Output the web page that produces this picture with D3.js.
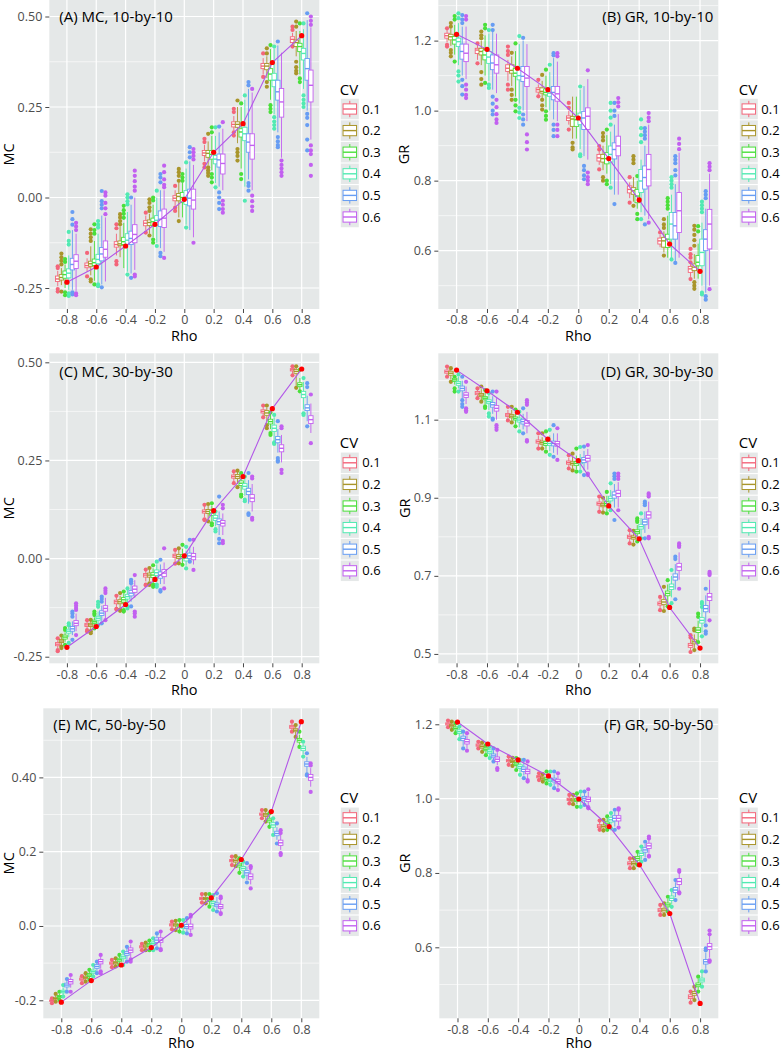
<!DOCTYPE html>
<html><head><meta charset="utf-8">
<script src="https://cdn.jsdelivr.net/npm/d3@7"></script>
<style>body{margin:0;background:#fff;} svg{display:block;font-family:"Open Sans",sans-serif;}</style>
</head><body><svg id="c" width="781" height="1050"></svg>
<script>
const rhoLabels = ["-0.8","-0.6","-0.4","-0.2","0","0.2","0.4","0.6","0.8"];
const cvLabels = ["0.1","0.2","0.3","0.4","0.5","0.6"];
const cvColors = ["#F3657A","#A9952B","#4ADF3A","#52EAB2","#679DF3","#C260F0"];

// ---- Panel A: MC 10-by-10  [whiskerLo, q1, median, q3, whiskerHi]
const boxA = [
 [[-0.245,-0.232,-0.225,-0.217,-0.203],[-0.242,-0.228,-0.221,-0.213,-0.195],[-0.25,-0.223,-0.213,-0.203,-0.185],[-0.255,-0.222,-0.209,-0.197,-0.16],[-0.255,-0.2,-0.185,-0.168,-0.09],[-0.258,-0.196,-0.176,-0.158,-0.1]],
 [[-0.205,-0.194,-0.188,-0.181,-0.168],[-0.215,-0.19,-0.183,-0.176,-0.135],[-0.23,-0.188,-0.18,-0.17,-0.12],[-0.235,-0.183,-0.171,-0.157,-0.1],[-0.24,-0.175,-0.156,-0.138,-0.05],[-0.232,-0.165,-0.143,-0.12,-0.055]],
 [[-0.16,-0.137,-0.13,-0.122,-0.1],[-0.165,-0.133,-0.128,-0.12,-0.08],[-0.195,-0.13,-0.122,-0.11,-0.07],[-0.205,-0.13,-0.118,-0.1,-0.04],[-0.21,-0.13,-0.113,-0.093,-0.02],[-0.2,-0.125,-0.102,-0.075,0.0]],
 [[-0.09,-0.078,-0.071,-0.064,-0.05],[-0.1,-0.077,-0.069,-0.062,-0.045],[-0.11,-0.077,-0.067,-0.057,-0.02],[-0.125,-0.077,-0.063,-0.05,0.0],[-0.14,-0.08,-0.06,-0.037,0.02],[-0.15,-0.083,-0.057,-0.032,0.02]],
 [[-0.022,-0.009,-0.002,0.005,0.02],[-0.055,-0.009,0.003,0.011,0.04],[-0.055,-0.014,0.0,0.014,0.04],[-0.075,-0.019,0.0,0.019,0.08],[-0.09,-0.023,-0.002,0.023,0.1],[-0.11,-0.032,-0.007,0.023,0.09]],
 [[0.1,0.116,0.123,0.13,0.145],[0.09,0.111,0.122,0.13,0.155],[0.075,0.106,0.119,0.13,0.17],[0.04,0.093,0.106,0.116,0.17],[0.03,0.084,0.104,0.12,0.18],[0.02,0.065,0.094,0.12,0.19]],
 [[0.185,0.195,0.202,0.209,0.225],[0.15,0.194,0.202,0.209,0.25],[0.08,0.167,0.181,0.19,0.25],[0.03,0.157,0.176,0.194,0.27],[0.05,0.125,0.153,0.176,0.3],[0.02,0.106,0.144,0.176,0.29]],
 [[0.34,0.356,0.363,0.37,0.385],[0.33,0.353,0.363,0.37,0.39],[0.27,0.324,0.341,0.356,0.41],[0.23,0.306,0.324,0.343,0.41],[0.18,0.269,0.292,0.324,0.42],[0.11,0.222,0.264,0.301,0.4]],
 [[0.42,0.428,0.437,0.444,0.455],[0.39,0.417,0.428,0.435,0.46],[0.34,0.403,0.417,0.426,0.46],[0.3,0.38,0.398,0.412,0.465],[0.24,0.324,0.356,0.384,0.49],[0.16,0.264,0.31,0.352,0.47]]
];
const outA = [
 [[-0.19,-0.195,-0.253,-0.26],[-0.185,-0.175,-0.165,-0.155,-0.26],[-0.178,-0.17,-0.262,-0.27],[-0.13,-0.12,-0.095,-0.265,-0.272],[-0.075,-0.06,-0.04,-0.262,-0.268],[-0.09,-0.08,-0.07,-0.265,-0.27]],
 [[-0.153,-0.218],[-0.12,-0.11,-0.1,-0.088,-0.226,-0.232],[-0.1,-0.09,-0.074,-0.24],[-0.083,-0.075,-0.065,-0.24,-0.245],[-0.03,-0.02,-0.01,0.018,-0.248],[-0.046,-0.03,-0.015,0.005,0.014]],
 [[-0.074,-0.085,-0.176,-0.185],[-0.046,-0.055,-0.065,-0.074],[-0.023,-0.035,-0.045,-0.056],[0.009,0.0,-0.01,-0.019,-0.213],[0.0,-0.222],[0.074,0.06,0.045,0.03,0.019,-0.213,-0.218]],
 [[-0.042,-0.097],[-0.005,-0.015,-0.027,-0.037,-0.105],[0.0,-0.008,-0.116,-0.125],[0.019,-0.134],[0.065,0.055,0.042,-0.153,-0.162],[0.088,0.07,0.05,0.035,0.028,-0.167]],
 [[0.032,-0.028,-0.037],[0.079,0.07,0.06,0.046,-0.065],[0.065,0.055,0.046],[0.097,-0.083],[0.139,0.125,0.111],[0.134,0.125,0.115,0.105,-0.125]],
 [[0.162,0.153,0.093,0.083],[0.176,0.083,0.075,0.068,0.06],[0.194,0.18,0.065,0.055,0.042],[0.194,0.028],[0.196,0.014,0.0,-0.015,-0.032],[0.208,-0.009,-0.02,-0.032,-0.042]],
 [[0.245,0.236,0.18,0.171],[0.268,0.134,0.125,0.115,0.102],[0.26,0.065,0.051],[0.282,-0.009],[0.319,0.31,0.04,0.032,0.019],[0.3,0.005,-0.01,-0.025,-0.037]],
 [[0.398,0.333],[0.412,0.398,0.319,0.306],[0.421,0.255,0.245,0.236],[0.417,0.222,0.21,0.2,0.19],[0.431,0.167,0.155,0.145,0.139],[0.102,0.09,0.08,0.07,0.06]],
 [[0.472,0.463,0.417],[0.486,0.472,0.375,0.36,0.35,0.343],[0.481,0.329,0.319],[0.481,0.282,0.27,0.26,0.25],[0.509,0.231,0.22,0.2,0.16,0.13],[0.5,0.488,0.477,0.144,0.13,0.12,0.09,0.06]]
];
const redA = [-0.234,-0.192,-0.134,-0.074,-0.005,0.125,0.204,0.373,0.447];

// ---- Panel B: GR 10-by-10
const boxB = [
 [[1.195,1.207,1.214,1.221,1.23],[1.185,1.202,1.211,1.218,1.235],[1.16,1.19,1.202,1.212,1.245],[1.13,1.183,1.197,1.207,1.25],[1.1,1.147,1.169,1.19,1.24],[1.09,1.14,1.164,1.19,1.24]],
 [[1.145,1.163,1.173,1.178,1.19],[1.13,1.159,1.169,1.178,1.2],[1.1,1.145,1.159,1.173,1.215],[1.085,1.135,1.153,1.169,1.22],[1.06,1.117,1.136,1.159,1.225],[1.05,1.107,1.131,1.159,1.22]],
 [[1.085,1.112,1.121,1.131,1.145],[1.07,1.107,1.115,1.131,1.155],[1.04,1.098,1.107,1.121,1.17],[1.02,1.088,1.1,1.121,1.19],[1.0,1.083,1.098,1.126,1.2],[0.97,1.069,1.093,1.126,1.19]],
 [[1.045,1.053,1.06,1.065,1.075],[1.035,1.05,1.055,1.065,1.085],[1.01,1.045,1.052,1.062,1.1],[1.0,1.041,1.05,1.065,1.11],[0.975,1.031,1.052,1.069,1.15],[0.97,1.027,1.048,1.069,1.14]],
 [[0.96,0.972,0.979,0.985,1.0],[0.92,0.955,0.976,0.983,1.04],[0.92,0.955,0.974,0.983,1.04],[0.89,0.96,0.979,0.993,1.06],[0.87,0.946,0.979,0.998,1.07],[0.86,0.946,0.984,1.008,1.09]],
 [[0.845,0.856,0.865,0.875,0.885],[0.83,0.853,0.863,0.875,0.9],[0.82,0.848,0.863,0.88,0.93],[0.79,0.853,0.875,0.899,0.94],[0.76,0.862,0.889,0.908,0.96],[0.76,0.871,0.899,0.927,0.99]],
 [[0.75,0.765,0.775,0.785,0.795],[0.74,0.761,0.771,0.78,0.81],[0.72,0.737,0.756,0.775,0.8],[0.71,0.766,0.799,0.832,0.86],[0.7,0.776,0.809,0.842,0.9],[0.69,0.785,0.832,0.875,0.96]],
 [[0.61,0.619,0.628,0.636,0.645],[0.595,0.61,0.628,0.638,0.655],[0.58,0.609,0.633,0.647,0.7],[0.57,0.633,0.676,0.709,0.76],[0.57,0.633,0.671,0.709,0.79],[0.58,0.652,0.714,0.766,0.88]],
 [[0.525,0.538,0.548,0.555,0.562],[0.52,0.543,0.553,0.562,0.59],[0.52,0.557,0.567,0.586,0.62],[0.5,0.557,0.595,0.633,0.68],[0.48,0.6,0.633,0.66,0.72],[0.5,0.605,0.676,0.718,0.82]]
];
const outB = [
 [[1.235,1.188,1.183],[1.25,1.24,1.173,1.165,1.155],[1.27,1.26,1.14],[1.278,1.264,1.112,1.1,1.083],[1.273,1.26,1.25,1.088,1.07,1.046],[1.27,1.26,1.074,1.06,1.045,1.036]],
 [[1.192,1.135],[1.226,1.215,1.207,1.11,1.09,1.074],[1.245,1.235,1.079],[1.23,1.074,1.065],[1.245,1.23,1.04,1.02,1.0,0.989],[1.031,1.01,0.99,0.975,0.965]],
 [[1.183,1.17,1.159,1.074,1.06],[1.165,1.06,1.045,1.031],[1.192,1.031,1.015,0.998],[1.213,1.008,0.995,0.979],[1.208,0.989,0.975,0.96],[0.932,0.91,0.889]],
 [[1.088,1.041],[1.102,1.031,1.015,1.003],[1.117,0.998,0.985,0.974],[1.131],[1.164,1.158,0.96,0.945,0.927],[1.164,1.155,0.96,0.945,0.927]],
 [[1.022,1.008,0.946],[0.908,0.895,0.889],[],[1.069,0.875,0.87],[0.842,0.83,0.815,0.804],[1.115,0.823,0.81,0.8,0.79]],
 [[0.899,0.889,0.832],[0.936,0.925,0.915,0.81,0.8],[0.946,0.8,0.79],[1.022,1.0,0.98,0.96,0.78],[1.022,1.0,0.985,0.733],[1.036,1.024,1.012]],
 [[0.81,0.737],[0.87,0.86,0.85,0.728],[0.813,0.705,0.69],[0.975,0.95,0.93,0.91,0.69],[0.95,0.94,0.93,0.92,0.675],[0.993,0.98,0.97,0.68]],
 [[0.652],[0.69,0.675,0.665,0.586],[0.75,0.74,0.73,0.72],[0.81,0.8,0.79,0.78,0.575],[0.87,0.86,0.85,0.83,0.815,0.565],[0.92,0.905,0.89]],
 [[0.605,0.59,0.58,0.567,0.519],[0.671,0.66,0.645,0.63,0.614,0.51,0.5,0.491],[0.67,0.655],[0.74,0.73,0.72,0.71,0.48,0.475],[0.77,0.76,0.75,0.47,0.46],[0.85,0.84,0.83,0.49]]
];
const redB = [1.218,1.175,1.121,1.06,0.979,0.863,0.745,0.619,0.541];

// ---- Panel C: MC 30-by-30
const boxC = [
 [[-0.228,-0.222,-0.218,-0.214,-0.208],[-0.22,-0.214,-0.21,-0.206,-0.2],[-0.212,-0.205,-0.2,-0.195,-0.188],[-0.2,-0.19,-0.185,-0.18,-0.17],[-0.195,-0.185,-0.179,-0.173,-0.16],[-0.185,-0.171,-0.165,-0.158,-0.14]],
 [[-0.178,-0.173,-0.169,-0.165,-0.16],[-0.18,-0.173,-0.169,-0.165,-0.158],[-0.172,-0.165,-0.161,-0.157,-0.15],[-0.168,-0.157,-0.152,-0.147,-0.135],[-0.16,-0.145,-0.139,-0.133,-0.12],[-0.152,-0.134,-0.127,-0.12,-0.1]],
 [[-0.124,-0.115,-0.11,-0.106,-0.098],[-0.125,-0.115,-0.11,-0.105,-0.095],[-0.125,-0.111,-0.105,-0.099,-0.09],[-0.118,-0.103,-0.097,-0.091,-0.08],[-0.11,-0.095,-0.088,-0.081,-0.068],[-0.1,-0.086,-0.078,-0.07,-0.055]],
 [[-0.058,-0.047,-0.042,-0.038,-0.03],[-0.058,-0.047,-0.042,-0.037,-0.028],[-0.062,-0.048,-0.042,-0.036,-0.025],[-0.06,-0.043,-0.036,-0.029,-0.015],[-0.065,-0.05,-0.042,-0.034,-0.015],[-0.065,-0.046,-0.037,-0.028,-0.01]],
 [[-0.01,0.003,0.007,0.011,0.018],[-0.01,0.0,0.005,0.01,0.022],[-0.012,0.0,0.005,0.01,0.025],[-0.018,-0.006,0.001,0.008,0.02],[-0.005,0.0,0.007,0.014,0.03],[-0.015,-0.003,0.005,0.013,0.03]],
 [[0.105,0.116,0.12,0.124,0.132],[0.1,0.115,0.12,0.125,0.135],[0.095,0.11,0.116,0.122,0.135],[0.082,0.097,0.103,0.11,0.118],[0.06,0.087,0.094,0.101,0.12],[0.06,0.083,0.09,0.097,0.115]],
 [[0.195,0.205,0.209,0.213,0.22],[0.19,0.204,0.209,0.214,0.222],[0.17,0.186,0.192,0.198,0.212],[0.16,0.177,0.184,0.191,0.205],[0.14,0.163,0.171,0.179,0.2],[0.12,0.145,0.154,0.163,0.19]],
 [[0.363,0.371,0.375,0.379,0.387],[0.35,0.365,0.371,0.377,0.385],[0.33,0.343,0.349,0.355,0.37],[0.3,0.324,0.332,0.34,0.36],[0.27,0.295,0.303,0.311,0.33],[0.245,0.272,0.281,0.29,0.315]],
 [[0.47,0.478,0.481,0.484,0.488],[0.44,0.472,0.477,0.482,0.488],[0.43,0.438,0.443,0.448,0.46],[0.38,0.41,0.418,0.426,0.45],[0.35,0.377,0.384,0.392,0.415],[0.32,0.344,0.354,0.364,0.395]]
];
const outC = [
 [[-0.203,-0.233,-0.236],[-0.196,-0.224,-0.228],[-0.177,-0.182,-0.22],[-0.165,-0.17,-0.215],[-0.135,-0.14,-0.148,-0.207],[-0.114,-0.12,-0.126,-0.131,-0.195]],
 [[-0.157,-0.182,-0.186],[-0.156,-0.185,-0.19],[-0.135,-0.14,-0.144,-0.178],[-0.11,-0.117,-0.123,-0.17],[-0.097,-0.103,-0.11,-0.165],[-0.076,-0.082,-0.088,-0.157]],
 [[-0.095,-0.128,-0.13],[-0.088,-0.13,-0.133],[-0.084,-0.131,-0.135],[-0.076,-0.122,-0.127],[-0.054,-0.058,-0.063,-0.122],[-0.042,-0.135,-0.14,-0.148]],
 [[-0.028,-0.066,-0.068],[-0.024,-0.063,-0.067],[-0.017,-0.066,-0.072],[-0.008,-0.066,-0.072],[-0.003,-0.08,-0.084],[0.026,-0.076]],
 [[0.022,-0.013],[0.026,-0.012],[0.035,-0.016],[0.03,-0.025],[0.048,-0.008],[0.048,-0.029]],
 [[0.137,0.1,0.098],[0.139,0.095],[0.141,0.09,0.085],[0.12,0.075,0.069],[0.158,0.05,0.039],[0.137,0.128,0.045,0.039]],
 [[0.222,0.192],[0.224,0.182],[0.218,0.163,0.158],[0.209,0.15,0.146],[0.218,0.115,0.111],[0.209,0.204,0.104,0.099]],
 [[0.39,0.36],[0.39,0.34,0.332],[0.372,0.32,0.315],[0.366,0.296,0.292],[0.35,0.256,0.25,0.247],[0.337,0.332,0.226,0.218]],
 [[0.49,0.467],[0.49,0.435],[0.481,0.426],[0.46,0.37,0.366],[0.447,0.437,0.337],[0.418,0.294]]
];
const redC = [-0.226,-0.173,-0.117,-0.053,0.007,0.122,0.209,0.382,0.483];

// ---- Panel D: GR 30-by-30
const boxD = [
 [[1.212,1.219,1.223,1.227,1.233],[1.203,1.214,1.219,1.224,1.23],[1.19,1.198,1.202,1.206,1.214],[1.18,1.188,1.193,1.198,1.21],[1.155,1.174,1.18,1.186,1.2],[1.14,1.157,1.163,1.169,1.185]],
 [[1.158,1.164,1.168,1.172,1.176],[1.15,1.159,1.163,1.167,1.178],[1.14,1.151,1.155,1.159,1.17],[1.125,1.141,1.146,1.151,1.165],[1.115,1.132,1.138,1.144,1.16],[1.1,1.122,1.129,1.136,1.155]],
 [[1.102,1.108,1.112,1.116,1.125],[1.098,1.105,1.109,1.113,1.125],[1.088,1.099,1.103,1.107,1.118],[1.08,1.094,1.099,1.104,1.115],[1.075,1.089,1.095,1.101,1.115],[1.065,1.084,1.091,1.098,1.12]],
 [[1.03,1.04,1.044,1.048,1.058],[1.03,1.037,1.041,1.045,1.055],[1.025,1.034,1.039,1.044,1.055],[1.02,1.034,1.039,1.044,1.06],[1.015,1.033,1.039,1.045,1.065],[1.01,1.032,1.038,1.044,1.065]],
 [[0.978,0.986,0.99,0.994,1.003],[0.975,0.984,0.988,0.992,1.005],[0.972,0.983,0.988,0.993,1.008],[0.972,0.987,0.992,0.997,1.012],[0.97,0.99,0.997,1.003,1.02],[0.972,0.994,1.001,1.008,1.025]],
 [[0.868,0.881,0.885,0.889,0.898],[0.866,0.877,0.881,0.885,0.895],[0.865,0.88,0.885,0.89,0.905],[0.875,0.892,0.898,0.904,0.92],[0.875,0.899,0.907,0.915,0.935],[0.875,0.903,0.911,0.919,0.94]],
 [[0.787,0.796,0.8,0.804,0.812],[0.785,0.794,0.798,0.802,0.81],[0.792,0.808,0.813,0.818,0.83],[0.8,0.82,0.826,0.832,0.848],[0.81,0.831,0.838,0.845,0.865],[0.82,0.848,0.856,0.864,0.89]],
 [[0.615,0.625,0.629,0.633,0.642],[0.615,0.627,0.633,0.639,0.655],[0.63,0.649,0.655,0.661,0.678],[0.645,0.665,0.672,0.679,0.7],[0.665,0.689,0.697,0.705,0.73],[0.69,0.714,0.723,0.732,0.76]],
 [[0.51,0.517,0.522,0.527,0.538],[0.515,0.526,0.531,0.536,0.55],[0.535,0.555,0.561,0.567,0.585],[0.555,0.579,0.586,0.593,0.615],[0.58,0.608,0.616,0.624,0.65],[0.605,0.637,0.646,0.655,0.69]]
];
const outD = [
 [[1.236,1.21],[1.232,1.197],[1.21,1.18,1.172],[1.216,1.172],[1.21,1.15,1.14,1.133],[1.197,1.129,1.124,1.12]],
 [[1.18,1.155],[1.185,1.146],[1.176,1.134,1.13],[1.168,1.116,1.108],[1.172,1.103,1.1],[1.172,1.086,1.08,1.074]],
 [[1.133,1.098],[1.133,1.093],[1.126,1.083],[1.12,1.07],[1.129,1.065],[1.15,1.144,1.138,1.048,1.044]],
 [[1.065,1.026],[1.065,1.026],[1.07,1.018],[1.074,1.01],[1.086,1.005],[1.078,0.997]],
 [[1.009,0.975],[1.013,0.97],[1.026,0.967],[1.03,0.967],[1.031,0.958],[1.035,0.962,0.958]],
 [[0.903,0.864],[0.9,0.862],[0.915,0.86],[0.937,0.868],[0.962,0.955,0.948,0.843],[0.962,0.955,0.948,0.868]],
 [[0.817,0.783],[0.815,0.78],[0.847,0.842,0.838,0.788],[0.86,0.796],[0.89,0.886,0.881,0.796],[0.911,0.907,0.903,0.8,0.796]],
 [[0.646,0.612],[0.672,0.61],[0.689,0.622],[0.715,0.63],[0.749,0.743,0.64],[0.783,0.778,0.774,0.667]],
 [[0.548,0.542,0.505],[0.565,0.56,0.51],[0.603,0.595,0.53],[0.633,0.628,0.62,0.545],[0.667,0.573,0.558,0.552],[0.71,0.706,0.702,0.586]]
];
const redD = [1.227,1.174,1.119,1.05,0.995,0.879,0.795,0.619,0.515];

// ---- Panel E: MC 50-by-50
const boxE = [
 [[-0.206,-0.203,-0.201,-0.199,-0.197],[-0.2,-0.197,-0.195,-0.192,-0.188],[-0.196,-0.193,-0.19,-0.187,-0.182],[-0.186,-0.18,-0.177,-0.173,-0.166],[-0.172,-0.164,-0.159,-0.154,-0.147],[-0.166,-0.156,-0.15,-0.144,-0.138]],
 [[-0.151,-0.146,-0.143,-0.14,-0.137],[-0.146,-0.141,-0.138,-0.135,-0.13],[-0.141,-0.136,-0.132,-0.128,-0.122],[-0.132,-0.127,-0.123,-0.119,-0.111],[-0.122,-0.114,-0.109,-0.104,-0.099],[-0.115,-0.102,-0.096,-0.09,-0.082]],
 [[-0.108,-0.103,-0.1,-0.097,-0.094],[-0.106,-0.102,-0.099,-0.096,-0.09],[-0.101,-0.095,-0.091,-0.087,-0.082],[-0.098,-0.088,-0.083,-0.078,-0.072],[-0.09,-0.079,-0.074,-0.069,-0.06],[-0.085,-0.071,-0.065,-0.059,-0.05]],
 [[-0.062,-0.059,-0.056,-0.053,-0.05],[-0.061,-0.057,-0.054,-0.051,-0.048],[-0.06,-0.055,-0.051,-0.047,-0.042],[-0.06,-0.051,-0.047,-0.043,-0.036],[-0.055,-0.044,-0.038,-0.032,-0.024],[-0.056,-0.044,-0.038,-0.032,-0.02]],
 [[-0.006,0.0,0.003,0.006,0.01],[-0.008,0.0,0.003,0.006,0.011],[-0.012,-0.004,0.0,0.004,0.012],[-0.013,-0.006,-0.002,0.003,0.012],[-0.015,-0.007,-0.002,0.004,0.016],[-0.018,-0.008,-0.002,0.005,0.02]],
 [[0.066,0.071,0.074,0.077,0.082],[0.065,0.071,0.074,0.077,0.083],[0.057,0.066,0.07,0.074,0.082],[0.048,0.056,0.061,0.066,0.076],[0.045,0.052,0.057,0.062,0.078],[0.04,0.047,0.052,0.058,0.07]],
 [[0.167,0.173,0.176,0.179,0.184],[0.166,0.172,0.176,0.18,0.185],[0.148,0.159,0.164,0.169,0.178],[0.138,0.15,0.155,0.16,0.168],[0.124,0.137,0.143,0.149,0.16],[0.112,0.126,0.133,0.14,0.152]],
 [[0.293,0.298,0.301,0.304,0.309],[0.286,0.295,0.299,0.303,0.309],[0.272,0.28,0.285,0.29,0.298],[0.252,0.266,0.272,0.278,0.285],[0.232,0.243,0.249,0.255,0.266],[0.205,0.217,0.224,0.231,0.245]],
 [[0.527,0.532,0.536,0.54,0.546],[0.514,0.523,0.527,0.531,0.538],[0.488,0.495,0.5,0.505,0.515],[0.462,0.472,0.478,0.484,0.49],[0.412,0.43,0.436,0.442,0.455],[0.375,0.392,0.4,0.408,0.425]]
];
const outE = [
 [[-0.195,-0.208],[-0.183,-0.204],[-0.177,-0.199],[-0.159,-0.19],[-0.143,-0.177],[-0.132,-0.177]],
 [[-0.135,-0.154],[-0.127,-0.15],[-0.118,-0.145],[-0.105,-0.136],[-0.096,-0.127],[-0.078,-0.122,-0.127]],
 [[-0.091,-0.111],[-0.087,-0.109],[-0.078,-0.105],[-0.069,-0.105],[-0.056,-0.096],[-0.042,-0.09,-0.096]],
 [[-0.048,-0.065],[-0.045,-0.065],[-0.039,-0.065],[-0.033,-0.065],[-0.02,-0.06],[-0.015,-0.062,-0.065]],
 [[0.012,-0.009],[0.014,-0.011],[0.016,-0.015],[0.016,-0.018],[0.021,-0.02],[0.03,0.025,-0.024]],
 [[0.086,0.063],[0.086,0.061],[0.086,0.052],[0.083,0.043],[0.088,0.039],[0.079,0.075,0.035,0.032]],
 [[0.187,0.164],[0.188,0.161],[0.182,0.143],[0.173,0.133],[0.169,0.117],[0.161,0.156,0.101]],
 [[0.312,0.29],[0.312,0.281],[0.303,0.267],[0.29,0.245],[0.276,0.222],[0.258,0.25,0.196,0.191]],
 [[0.55,0.523],[0.541,0.509],[0.523,0.482],[0.496,0.456],[0.465,0.408,0.405],[0.438,0.432,0.361]]
];
const redE = [-0.205,-0.147,-0.105,-0.058,0.002,0.076,0.179,0.308,0.55];

// ---- Panel F: GR 50-by-50
const boxF = [
 [[1.194,1.198,1.201,1.204,1.208],[1.188,1.193,1.196,1.199,1.204],[1.18,1.185,1.189,1.193,1.2],[1.166,1.175,1.18,1.185,1.19],[1.142,1.156,1.162,1.168,1.175],[1.135,1.147,1.153,1.159,1.17]],
 [[1.137,1.141,1.144,1.147,1.151],[1.13,1.136,1.14,1.144,1.148],[1.121,1.129,1.133,1.137,1.142],[1.113,1.121,1.126,1.131,1.137],[1.104,1.11,1.115,1.12,1.13],[1.09,1.1,1.106,1.112,1.125]],
 [[1.094,1.099,1.102,1.105,1.11],[1.091,1.097,1.1,1.103,1.108],[1.082,1.089,1.093,1.097,1.105],[1.07,1.081,1.086,1.091,1.1],[1.062,1.073,1.079,1.085,1.098],[1.055,1.067,1.073,1.079,1.092]],
 [[1.052,1.056,1.059,1.062,1.066],[1.048,1.052,1.055,1.058,1.063],[1.044,1.048,1.052,1.056,1.065],[1.04,1.046,1.05,1.054,1.065],[1.033,1.045,1.05,1.055,1.065],[1.03,1.04,1.046,1.052,1.062]],
 [[0.99,0.995,0.998,1.001,1.007],[0.989,0.993,0.996,0.999,1.006],[0.985,0.992,0.996,1.0,1.01],[0.982,0.993,0.998,1.003,1.013],[0.987,0.996,1.001,1.006,1.014],[0.98,0.992,0.998,1.004,1.018]],
 [[0.918,0.922,0.926,0.93,0.937],[0.917,0.921,0.925,0.929,0.937],[0.92,0.929,0.934,0.939,0.947],[0.926,0.937,0.943,0.949,0.956],[0.925,0.94,0.947,0.954,0.965],[0.928,0.94,0.947,0.954,0.966]],
 [[0.816,0.822,0.826,0.83,0.836],[0.816,0.822,0.826,0.83,0.836],[0.826,0.834,0.839,0.844,0.852],[0.836,0.847,0.853,0.859,0.866],[0.842,0.856,0.862,0.868,0.878],[0.852,0.866,0.873,0.88,0.892]],
 [[0.69,0.696,0.7,0.704,0.71],[0.688,0.695,0.7,0.705,0.713],[0.7,0.709,0.714,0.719,0.73],[0.715,0.726,0.732,0.738,0.75],[0.735,0.747,0.754,0.761,0.775],[0.752,0.769,0.777,0.785,0.8]],
 [[0.455,0.462,0.467,0.472,0.478],[0.462,0.471,0.476,0.481,0.49],[0.486,0.494,0.499,0.504,0.515],[0.5,0.507,0.512,0.517,0.53],[0.542,0.555,0.561,0.567,0.585],[0.572,0.594,0.602,0.61,0.63]]
];
const outF = [
 [[1.21,1.192],[1.207,1.185],[1.203,1.176],[1.194,1.16],[1.18,1.135],[1.176,1.129]],
 [[1.153,1.135],[1.151,1.126],[1.144,1.117],[1.14,1.109],[1.135,1.1],[1.131,1.082,1.077]],
 [[1.113,1.091],[1.11,1.088],[1.109,1.077],[1.104,1.064],[1.104,1.055],[1.1,1.05,1.046]],
 [[1.068,1.05],[1.066,1.046],[1.073,1.041],[1.073,1.037],[1.073,1.028],[1.068,1.023]],
 [[1.01,0.987],[1.01,0.985],[1.014,0.978],[1.019,0.978],[1.019,0.983],[1.025,0.977,0.974]],
 [[0.941,0.916],[0.943,0.914],[0.952,0.916],[0.961,0.92],[0.97,0.916],[0.974,0.97,0.922]],
 [[0.839,0.813],[0.84,0.813],[0.857,0.822],[0.871,0.83],[0.884,0.835],[0.898,0.893,0.846,0.844]],
 [[0.714,0.687],[0.718,0.687],[0.736,0.696],[0.754,0.709],[0.781,0.727],[0.808,0.803,0.748,0.745]],
 [[0.481,0.451],[0.494,0.458],[0.521,0.481],[0.535,0.494],[0.597,0.592,0.535],[0.645,0.635,0.565,0.561]]
];
const redF = [1.206,1.147,1.104,1.061,0.999,0.925,0.822,0.691,0.449];

// ---- axis ticks
const ticksMC = [-0.25,0,0.25,0.5];
const tickLabMC = ["-0.25","0.00","0.25","0.50"];
const ticksGR10 = [0.6,0.8,1.0,1.2];
const tickLabGR10 = ["0.6","0.8","1.0","1.2"];
const ticksGR30 = [0.5,0.7,0.9,1.1];
const tickLabGR30 = ["0.5","0.7","0.9","1.1"];
const ticksMC50 = [-0.2,0,0.2,0.4];
const tickLabMC50 = ["-0.2","0.0","0.2","0.40"];
const ticksGR50 = [0.6,0.8,1.0,1.2];
const tickLabGR50 = ["0.6","0.8","1.0","1.2"];

const panels = [
 {box:boxA,out:outA,red:redA,x0:49.3,x1:319.3,y0:0,y1:309,dom:[-0.308,0.5456],ticks:ticksMC,labs:tickLabMC,title:"(A) MC, 10-by-10",right:false,ylab:"MC",ylx:14,tb:22,rb:31.5},
 {box:boxB,out:outB,red:redB,x0:438.3,x1:718.3,y0:0,y1:309,dom:[0.4334,1.316],ticks:ticksGR10,labs:tickLabGR10,title:"(B) GR, 10-by-10",right:true,ylab:"GR",ylx:409,tb:22,rb:31.5},
 {box:boxC,out:outC,red:redC,x0:49.3,x1:319.3,y0:353.3,y1:663.3,dom:[-0.2668,0.523],ticks:ticksMC,labs:tickLabMC,title:"(C) MC, 30-by-30",right:false,ylab:"MC",ylx:14,tb:377,rb:31.5},
 {box:boxD,out:outD,red:redD,x0:438.3,x1:718.3,y0:353.3,y1:663.3,dom:[0.476,1.270],ticks:ticksGR30,labs:tickLabGR30,title:"(D) GR, 30-by-30",right:true,ylab:"GR",ylx:410,tb:377,rb:31.5},
 {box:boxE,out:outE,red:redE,x0:43.3,x1:319.3,y0:708.3,y1:1018.3,dom:[-0.2485,0.586],ticks:ticksMC50,labs:tickLabMC50,title:"(E) MC, 50-by-50",right:false,ylab:"MC",ylx:14,tb:730,rb:30},
 {box:boxF,out:outF,red:redF,x0:439.3,x1:718.3,y0:708.3,y1:1018.3,dom:[0.409,1.243],ticks:ticksGR50,labs:tickLabGR50,title:"(F) GR, 50-by-50",right:true,ylab:"GR",ylx:410,tb:730,rb:30}
];

const svg = d3.select("#c");
const offsets = [-0.3125,-0.1875,-0.0625,0.0625,0.1875,0.3125];
const bg = "#E5E8E8";

panels.forEach(p => {
  const x = d3.scalePoint().domain(rhoLabels).range([p.x0,p.x1]).padding(0.6);
  const y = d3.scaleLinear().domain(p.dom).range([p.y1,p.y0]);
  const step = x.step();
  const g = svg.append("g");
  g.append("rect").attr("x",p.x0).attr("y",p.y0).attr("width",p.x1-p.x0).attr("height",p.y1-p.y0).attr("fill",bg);
  const tk = p.ticks, d = tk[1]-tk[0];
  const minors = [];
  for (let v = tk[0]-d/2; v <= p.dom[1]; v += d) if (v >= p.dom[0]) minors.push(v);
  g.selectAll(".mn").data(minors).enter().append("line")
    .attr("x1",p.x0).attr("x2",p.x1).attr("y1",v=>y(v)).attr("y2",v=>y(v))
    .attr("stroke","#fff").attr("stroke-width",0.6);
  g.selectAll(".mj").data(tk).enter().append("line")
    .attr("x1",p.x0).attr("x2",p.x1).attr("y1",v=>y(v)).attr("y2",v=>y(v))
    .attr("stroke","#fff").attr("stroke-width",1.2);
  g.selectAll(".vx").data(rhoLabels).enter().append("line")
    .attr("x1",r=>x(r)).attr("x2",r=>x(r)).attr("y1",p.y0).attr("y2",p.y1)
    .attr("stroke","#fff").attr("stroke-width",1.2);
  const bw = 0.15*step;
  rhoLabels.forEach((r,i) => {
    for (let j=0;j<6;j++) {
      const b = p.box[i][j], col = cvColors[j];
      const cx = x(r) + offsets[j]*step;
      const bx = g.append("g");
      bx.selectAll("circle").data(p.out[i][j]).enter().append("circle")
        .attr("cx",cx).attr("cy",v=>y(v)).attr("r",2.1).attr("fill",col);
      bx.append("line").attr("x1",cx).attr("x2",cx).attr("y1",y(b[0])).attr("y2",y(b[1])).attr("stroke",col).attr("stroke-width",0.9);
      bx.append("line").attr("x1",cx).attr("x2",cx).attr("y1",y(b[3])).attr("y2",y(b[4])).attr("stroke",col).attr("stroke-width",0.9);
      bx.append("rect").attr("x",cx-bw/2).attr("y",y(b[3])).attr("width",bw).attr("height",Math.max(0.5,y(b[1])-y(b[3])))
        .attr("fill","#fff").attr("stroke",col).attr("stroke-width",0.9);
      bx.append("line").attr("x1",cx-bw/2).attr("x2",cx+bw/2).attr("y1",y(b[2])).attr("y2",y(b[2])).attr("stroke",col).attr("stroke-width",1.4);
    }
  });
  const pts = rhoLabels.map((r,i)=>[x(r),y(p.red[i])]);
  g.append("path").attr("d",d3.line()(pts)).attr("fill","none").attr("stroke","#B257E8").attr("stroke-width",1.1);
  g.selectAll(".rp").data(pts).enter().append("circle").attr("cx",q=>q[0]).attr("cy",q=>q[1]).attr("r",2.6).attr("fill","#FF0000");
  const ya = g.append("g").attr("transform",`translate(${p.x0},0)`)
    .call(d3.axisLeft(y).tickValues(p.ticks).tickFormat((v,i)=>p.labs[i]).tickSize(4).tickPadding(3));
  const xa = g.append("g").attr("transform",`translate(0,${p.y1})`)
    .call(d3.axisBottom(x).tickSize(4).tickPadding(2.5));
  [ya,xa].forEach(a => {
    a.select(".domain").remove();
    a.selectAll(".tick line").attr("stroke","#333").attr("stroke-width",0.9);
    a.selectAll("text").attr("fill","#4D4D4D").style("font-size","12.5px").style("font-family","'Open Sans',sans-serif");
  });
  g.append("text").attr("x",p.right ? p.x1-5 : p.x0+10).attr("y",p.tb)
    .attr("text-anchor",p.right?"end":"start").style("font-size","15px").attr("fill","#000").text(p.title);
  g.append("text").attr("x",(p.x0+p.x1)/2).attr("y",p.y1+p.rb).attr("text-anchor","middle").style("font-size","14.5px").text("Rho");
  g.append("text").attr("transform",`translate(${p.ylx},${(p.y0+p.y1)/2}) rotate(-90)`).attr("text-anchor","middle").style("font-size","14.5px").text(p.ylab);
  const lx = p.x1 + 21.5, cy = (p.y0+p.y1)/2, ty = cy - 65;
  g.append("text").attr("x",lx-1).attr("y",ty+5).style("font-size","15px").text("CV");
  cvLabels.forEach((lab,j) => {
    const ky = ty + 19.5 + j*21.6, kw = 18, kh = 20.5;
    const k = g.append("g");
    k.append("rect").attr("x",lx).attr("y",ky-kh/2).attr("width",kw).attr("height",kh).attr("fill",bg);
    k.append("line").attr("x1",lx+kw/2).attr("x2",lx+kw/2).attr("y1",ky-kh*0.4).attr("y2",ky+kh*0.4).attr("stroke",cvColors[j]).attr("stroke-width",1);
    k.append("rect").attr("x",lx+kw*0.125).attr("y",ky-kh*0.25).attr("width",kw*0.75).attr("height",kh*0.5)
      .attr("fill","#fff").attr("stroke",cvColors[j]).attr("stroke-width",1);
    k.append("line").attr("x1",lx+kw*0.125).attr("x2",lx+kw*0.875).attr("y1",ky).attr("y2",ky).attr("stroke",cvColors[j]).attr("stroke-width",1.4);
    g.append("text").attr("x",lx+kw+3.5).attr("y",ky+4.5).style("font-size","13px").attr("fill","#000").text(lab);
  });
});
</script>
</body></html>
